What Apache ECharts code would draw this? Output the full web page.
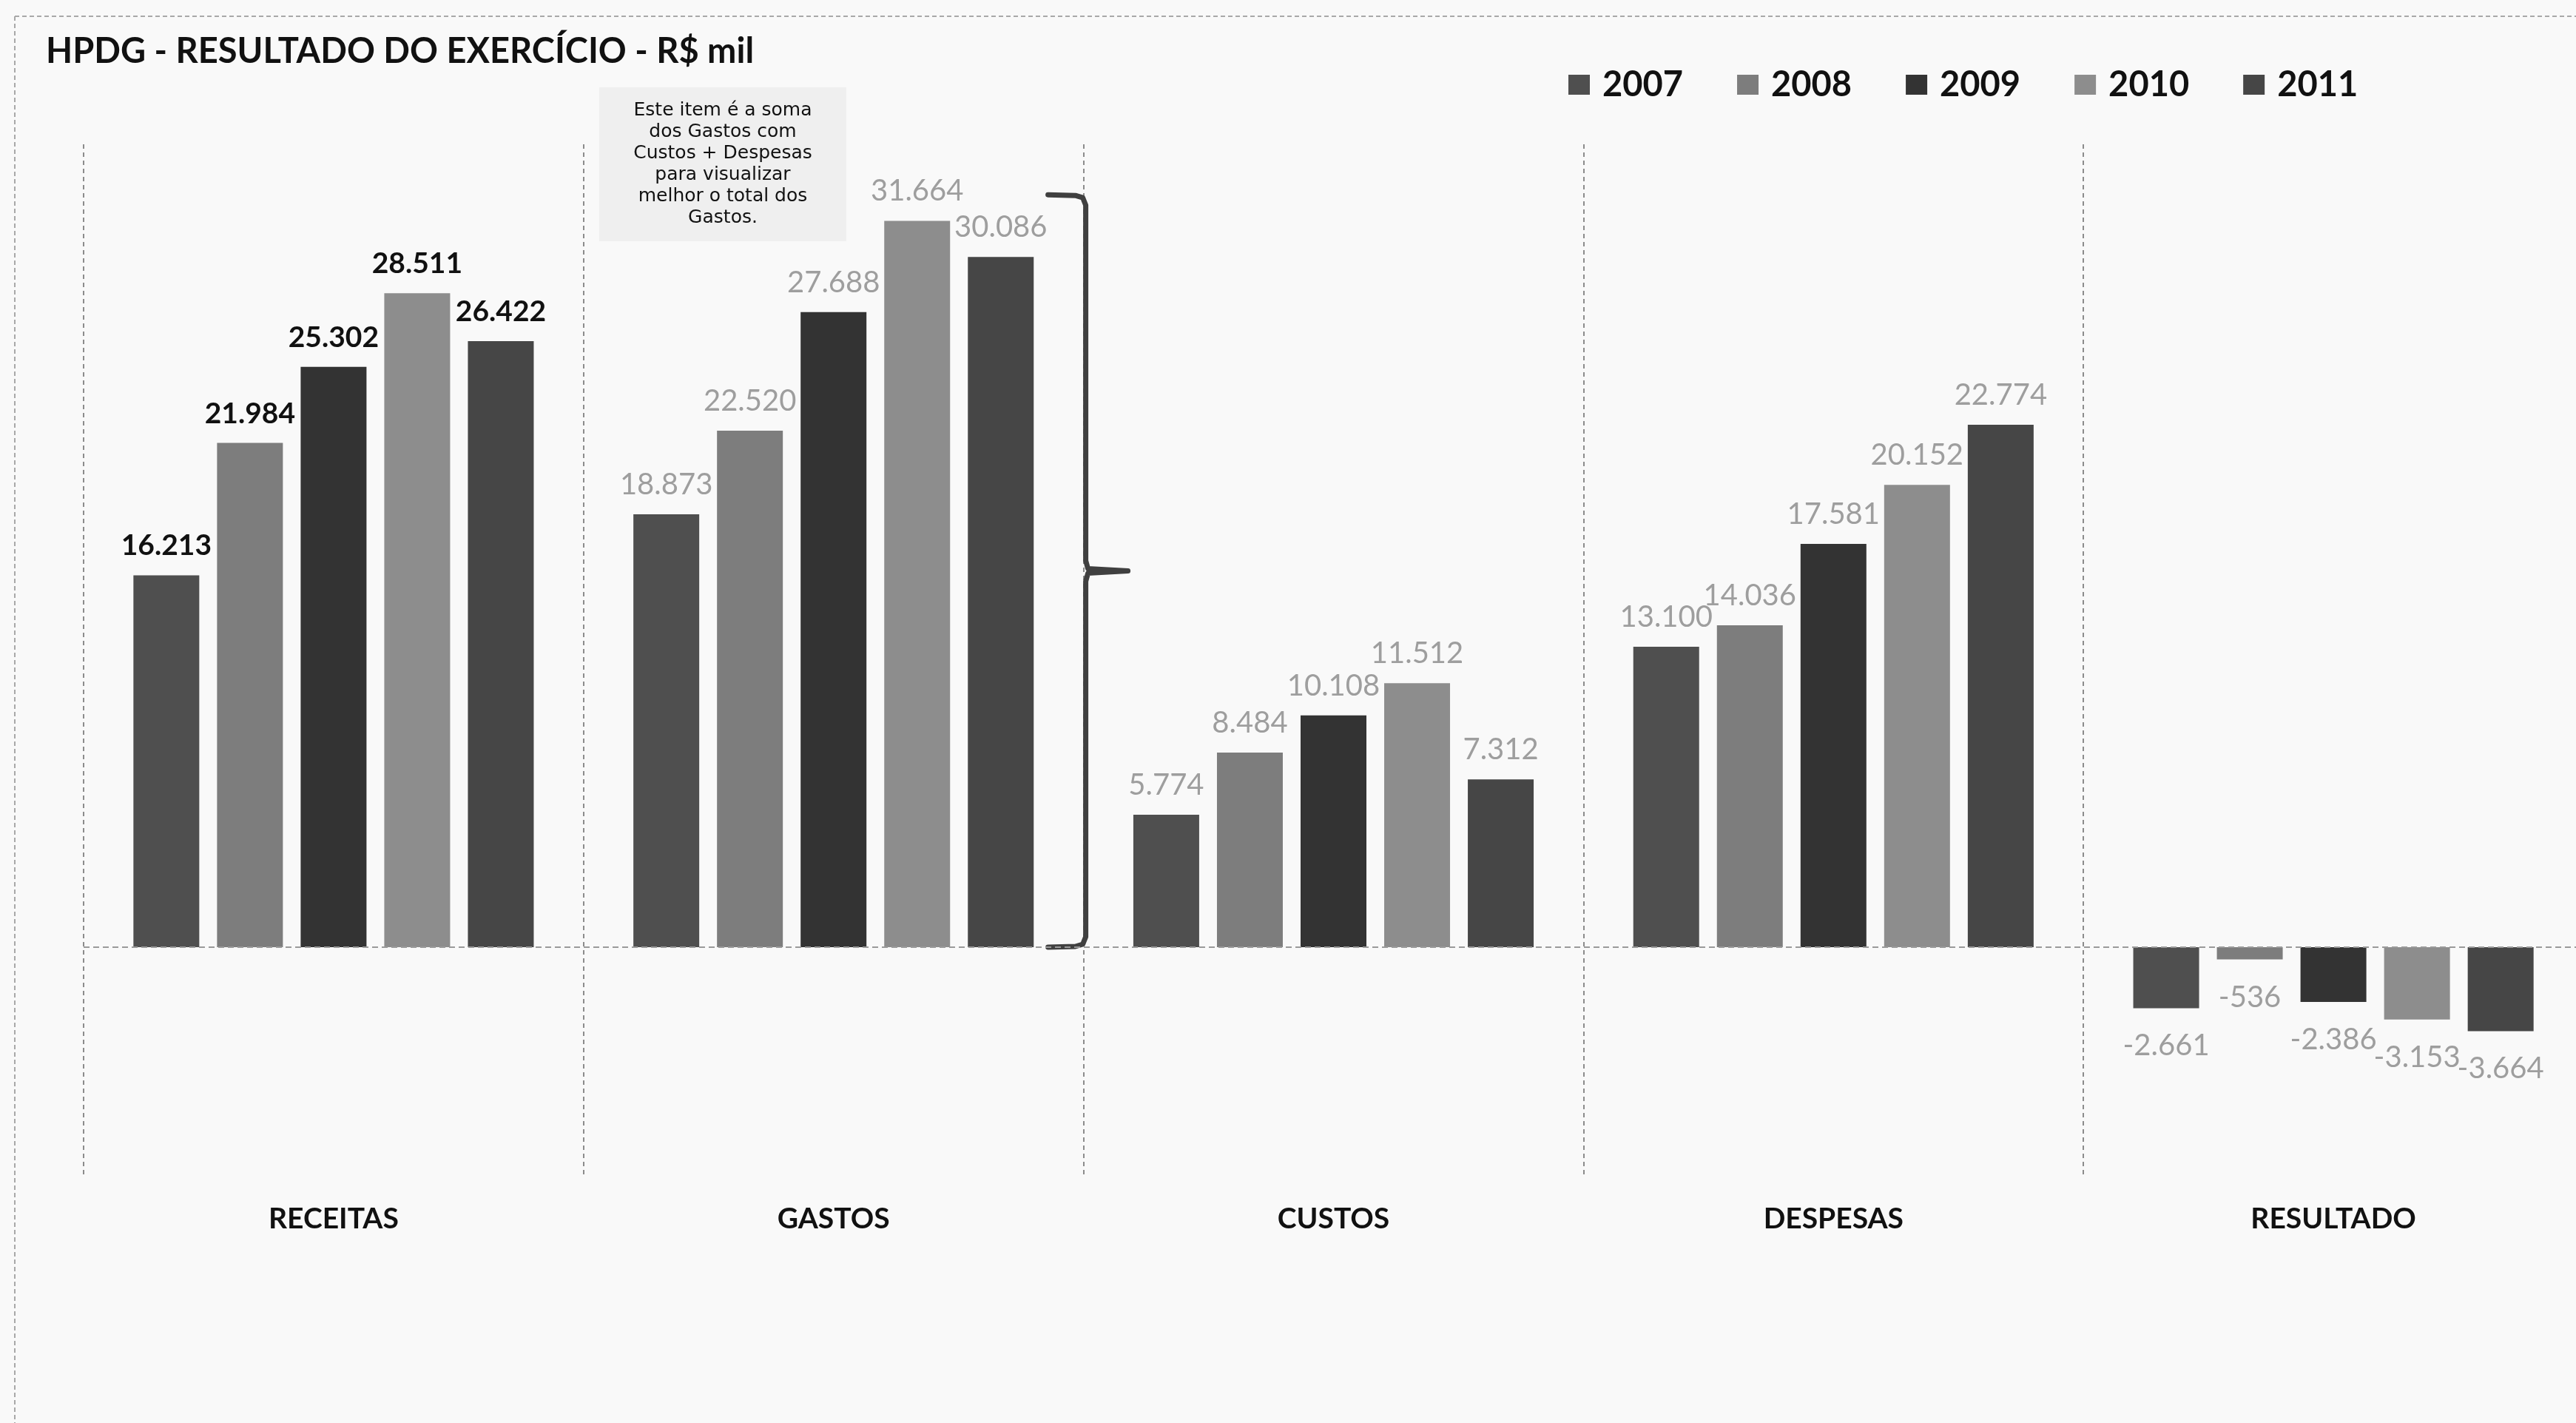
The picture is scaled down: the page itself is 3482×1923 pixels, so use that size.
<!DOCTYPE html>
<html>
<head>
<meta charset="utf-8">
<script src="https://cdn.jsdelivr.net/npm/echarts@6/dist/echarts.min.js"></script>
<style>
html,body{margin:0;padding:0;background:#f9f9f9;}
#c{width:3482px;height:1923px;}
</style>
</head>
<body>
<div id="c"></div>
<script>
const categories = ['RECEITAS', 'GASTOS', 'CUSTOS', 'DESPESAS', 'RESULTADO'];
const years = ['2007', '2008', '2009', '2010', '2011'];
const v2007 = [16213, 18873, 5774, 13100, -2661];
const v2008 = [21984, 22520, 8484, 14036, -536];
const v2009 = [25302, 27688, 10108, 17581, -2386];
const v2010 = [28511, 31664, 11512, 20152, -3153];
const v2011 = [26422, 30086, 7312, 22774, -3664];
const yTicks = { min: -10000, max: 35000, interval: 5000 };
const noteLines = ['Este item é a soma', 'dos Gastos com', 'Custos + Despesas', 'para visualizar', 'melhor o total dos', 'Gastos.'];
const bracketTop = 32800;

const values = [v2007, v2008, v2009, v2010, v2011];
const colors = ['#4f4f4f', '#7d7d7d', '#333333', '#8d8d8d', '#464646'];
const FONT = 'Lato, "Open Sans", sans-serif';

function fmt(v) {
  const s = Math.abs(v).toString().replace(/\B(?=(\d{3})+(?!\d))/g, '.');
  return (v < 0 ? '-' : '') + s;
}

const series = years.map((y, i) => ({
  name: y,
  type: 'bar',
  barWidth: 89,
  barGap: '27%',
  itemStyle: { color: colors[i] },
  label: {
    show: true,
    position: 'top',
    distance: 20,
    fontFamily: FONT,
    fontSize: 40,
    color: '#9e9e9e',
    formatter: p => fmt(p.value)
  },
  data: values[i].map((v, j) => {
    const item = { value: v };
    const lab = {};
    if (j === 0) { lab.fontWeight = 'bold'; lab.color = '#111111'; lab.fontSize = 39; }
    if (v < 0) { lab.position = 'bottom'; lab.distance = 31; }
    item.label = lab;
    return item;
  }),
  markLine: i === 0 ? {
    silent: true,
    symbol: 'none',
    label: { show: false },
    lineStyle: { color: '#9a9a9a', type: [8, 5], width: 2 },
    data: [{ yAxis: 0 }]
  } : undefined
}));

const chart = echarts.init(document.getElementById('c'));
chart.setOption({
  backgroundColor: '#f9f9f9',
  animation: false,
  title: {
    text: 'HPDG - RESULTADO DO EXERCÍCIO - R$ mil',
    left: 62, top: 46, padding: 0,
    textStyle: { fontFamily: FONT, fontSize: 47, fontWeight: 'bold', color: '#111' }
  },
  legend: {
    data: years,
    left: 2120, top: 91, padding: 0,
    icon: 'rect', itemWidth: 29, itemHeight: 27, itemGap: 73,
    textStyle: { fontFamily: FONT, fontSize: 47, fontWeight: 'bold', color: '#111', padding: [0, 0, 0, 12] }
  },
  grid: { left: 113, width: 3379, top: 195, bottom: 333, outerBoundsMode: 'none', containLabel: false },
  xAxis: {
    type: 'category',
    data: categories,
    axisLine: { show: false },
    axisTick: { show: false },
    axisLabel: { margin: 38, fontFamily: FONT, fontSize: 39, fontWeight: 'bold', color: '#111' },
    splitLine: { show: true, lineStyle: { color: '#8c8c8c', type: [6, 5], width: 2 } }
  },
  yAxis: {
    type: 'value', min: yTicks.min, max: yTicks.max, interval: yTicks.interval,
    show: false, splitLine: { show: false }
  },
  series: series
});

// decorations: border, note box, bracket
const xG = chart.convertToPixel({ xAxisIndex: 0 }, 'GASTOS');
const xC = chart.convertToPixel({ xAxisIndex: 0 }, 'CUSTOS');
const bx = (xG + xC) / 2 + 3;
const yT = chart.convertToPixel({ yAxisIndex: 0 }, bracketTop);
const yB = chart.convertToPixel({ yAxisIndex: 0 }, 0);
const yM = (yT + yB) / 2;
const r = 14;
const bracketStyle = { stroke: '#404040', lineWidth: 7, fill: null, lineJoin: 'round', lineCap: 'round' };

chart.setOption({
  graphic: [
    { type: 'line', silent: true, shape: { x1: 20, y1: 22, x2: 3482, y2: 22 }, style: { stroke: '#a8a8a8', lineWidth: 2, lineDash: [6, 4] } },
    { type: 'line', silent: true, shape: { x1: 20, y1: 22, x2: 20, y2: 1923 }, style: { stroke: '#a8a8a8', lineWidth: 2, lineDash: [6, 4] } },
    { type: 'rect', silent: true, shape: { x: 810, y: 118, width: 334, height: 208 }, style: { fill: '#efefef' } },
    { type: 'text', silent: true, x: 977, y: 222,
      style: { text: noteLines.join('\n'), fontFamily: '"DejaVu Sans", sans-serif', fontSize: 25, lineHeight: 29, fill: '#111', textAlign: 'center', textVerticalAlign: 'middle' } },
    { type: 'polyline', silent: true, shape: { points: [
        [bx - 51, yT], [bx - r, yT + 1], [bx - 4, yT + 4], [bx, yT + r],
        [bx, yM - r], [bx + 3, yM - 3], [bx + 57, yM],
        [bx + 3, yM + 3], [bx, yM + r],
        [bx, yB - r], [bx - 4, yB - 4], [bx - r, yB - 1], [bx - 51, yB]
      ] }, style: bracketStyle }
  ]
});
</script>
</body>
</html>
